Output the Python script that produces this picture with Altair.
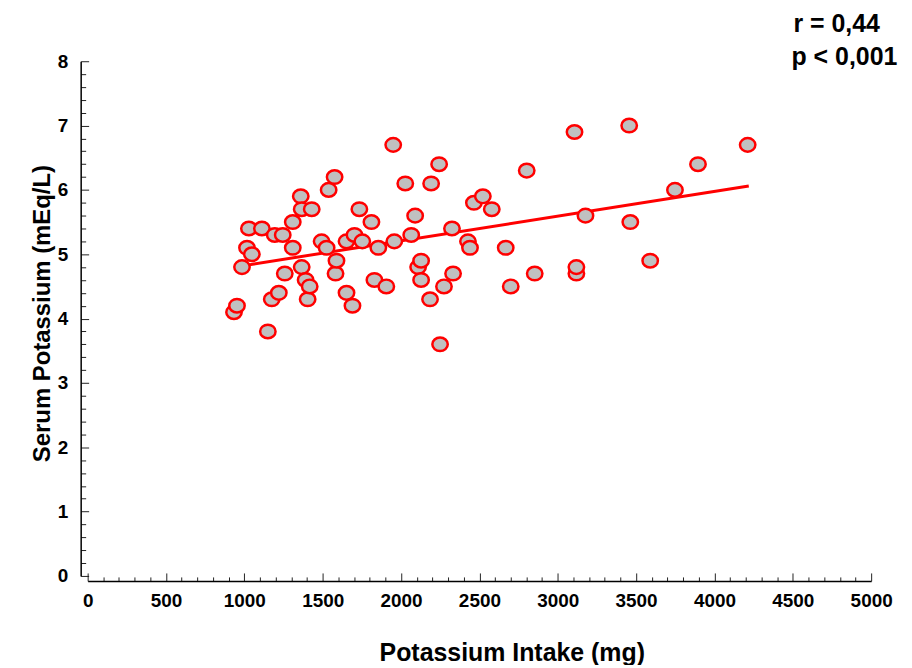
import altair as alt
import pandas as pd

# ---- data ----
intake_mg = [934, 953, 985, 1017, 1029, 1048, 1112, 1150, 1175, 1194,
             1220, 1245, 1258, 1309, 1309, 1360, 1366, 1366, 1391, 1404,
             1417, 1430, 1493, 1525, 1538, 1576, 1582, 1588, 1652, 1652,
             1690, 1703, 1734, 1753, 1811, 1830, 1855, 1906, 1950, 1957,
             2027, 2065, 2090, 2109, 2128, 2128, 2192, 2185, 2243, 2249,
             2274, 2325, 2332, 2427, 2440, 2465, 2522, 2579, 2668, 2700,
             2802, 2853, 3107, 3119, 3119, 3177, 3456, 3463, 3590, 3748,
             3895, 4212]
serum_k = [4.1, 4.2, 4.8, 5.1, 5.4, 5.0, 5.4, 3.8, 4.3, 5.3,
           4.4, 5.3, 4.7, 5.5, 5.1, 5.9, 5.7, 4.8, 4.6, 4.3,
           4.5, 5.7, 5.2, 5.1, 6.0, 6.2, 4.7, 4.9, 4.4, 5.2,
           4.2, 5.3, 5.7, 5.2, 5.5, 4.6, 5.1, 4.5, 6.7, 5.2,
           6.1, 5.3, 5.6, 4.8, 4.9, 4.6, 6.1, 4.3, 6.4, 3.6,
           4.5, 5.4, 4.7, 5.2, 5.1, 5.8, 5.9, 5.7, 5.1, 4.5,
           6.3, 4.7, 6.9, 4.7, 4.8, 5.6, 7.0, 5.5, 4.9, 6.0,
           6.4, 6.7]
fit_intake = [934, 4219]
fit_serum = [4.80, 6.06]

x_label_values = list(range(0, 5001, 500))
x_tick_values = list(range(0, 5001, 100))
y_label_values = list(range(0, 9))
y_tick_values = [round(i * 0.2, 1) for i in range(41)]

annot_r = "r = 0,44"
annot_p = "p < 0,001"
x_title = "Potassium Intake (mg)"
y_title = "Serum Potassium (mEq/L)"

pts = pd.DataFrame({"intake": intake_mg, "serum": serum_k})
fit = pd.DataFrame({"fit_x": fit_intake, "fit_y": fit_serum})

W, H = 787, 517
FONT = "Liberation Sans"

xscale = alt.Scale(domain=[0, 5000], nice=False, zero=False)
yscale = alt.Scale(domain=[0, 8], nice=False, zero=False)

# line layer carries the inward-pointing tick axes
line = alt.Chart(fit).mark_line(color="#ff0000", strokeWidth=3).encode(
    x=alt.X("fit_x:Q", scale=xscale,
            axis=alt.Axis(orient="top", offset=-(H + 5), values=x_tick_values,
                          labels=False, domain=False, grid=False, title="",
                          tickColor="#222222", tickWidth=1,
                          tickSize={"condition": {"test": "datum.value % 500 === 0", "value": 8},
                                    "value": 4})),
    y=alt.Y("fit_y:Q", scale=yscale,
            axis=alt.Axis(orient="right", offset=-(W + 7), values=y_tick_values,
                          labels=False, domain=False, grid=False, title="",
                          tickColor="#222222", tickWidth=1,
                          tickSize={"condition": {"test": "abs(datum.value - round(datum.value)) < 0.001", "value": 8},
                                    "value": 5})),
)

ellipse = "M -1 0 A 1 0.88 0 1 0 1 0 A 1 0.88 0 1 0 -1 0 Z"

points = alt.Chart(pts).mark_point(
    shape=ellipse, size=240, filled=True, fill="#c0c0c0", fillOpacity=1,
    stroke="#ff0000", strokeWidth=2.5, opacity=1
).encode(
    x=alt.X("intake:Q", scale=xscale,
            axis=alt.Axis(orient="bottom", offset=5, values=x_label_values,
                          format="d", labelFlush=False,
                          ticks=False, tickSize=0, grid=False,
                          domainColor="#000000", domainWidth=1.5,
                          labelFont=FONT, labelFontWeight="bold", labelFontSize=19,
                          labelColor="#000000", labelPadding=11,
                          title=x_title, titleFont=FONT, titleFontWeight="bold",
                          titleFontSize=25, titleColor="#000000",
                          titleX=426, titleY=72, titleBaseline="middle")),
    y=alt.Y("serum:Q", scale=yscale,
            axis=alt.Axis(orient="left", offset=7, values=y_label_values,
                          format="d", labelFlush=False,
                          ticks=False, tickSize=0, grid=False,
                          domainColor="#000000", domainWidth=1.5,
                          labelFont=FONT, labelFontWeight="bold", labelFontSize=19,
                          labelColor="#000000", labelPadding=13,
                          title=y_title, titleFont=FONT, titleFontWeight="bold",
                          titleFontSize=24, titleColor="#000000",
                          titleX=-31, titleY=253, titleBaseline="alphabetic")),
)

text_r = alt.Chart(pd.DataFrame({"t": [annot_r]})).mark_text(
    align="left", baseline="alphabetic", font=FONT, fontWeight="bold",
    fontSize=25, color="#000000"
).encode(text="t:N", x=alt.value(709), y=alt.value(-29))

text_p = alt.Chart(pd.DataFrame({"t": [annot_p]})).mark_text(
    align="left", baseline="alphabetic", font=FONT, fontWeight="bold",
    fontSize=25, color="#000000"
).encode(text="t:N", x=alt.value(707), y=alt.value(4))

chart = alt.layer(line, points, text_r, text_p).resolve_axis(
    x="independent", y="independent"
).properties(
    width=W, height=H,
    padding={"left": 80, "top": 52, "right": 33, "bottom": 88},
    autosize=alt.AutoSizeParams(type="none"),
).configure_view(strokeWidth=0)

chart.save("out.html", embed_options={"renderer": "svg", "actions": False})
